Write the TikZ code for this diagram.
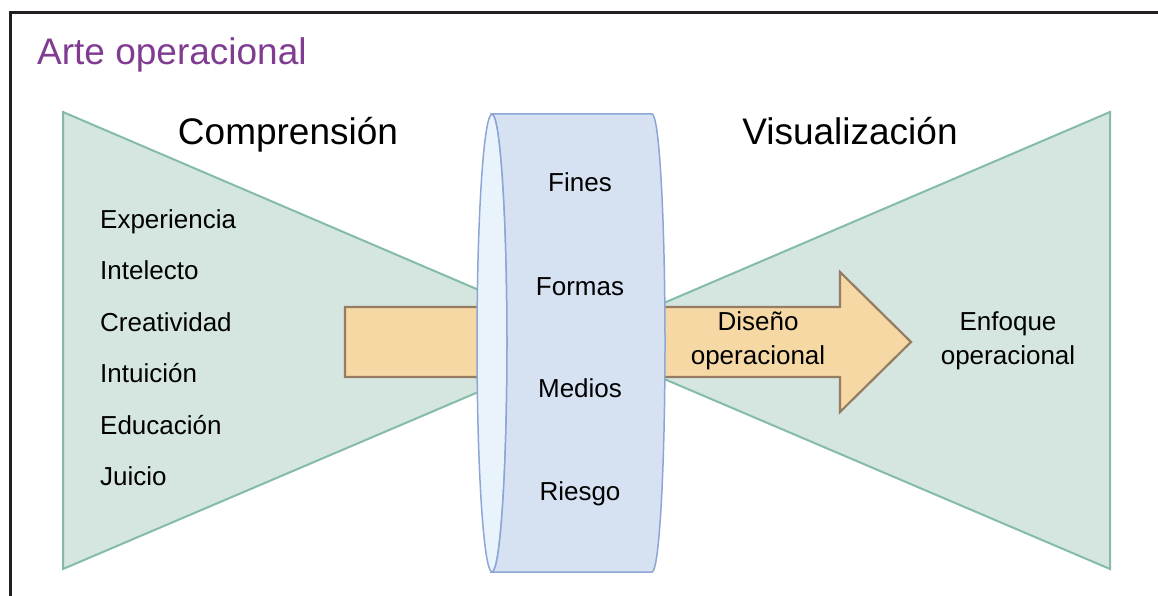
\documentclass[tikz,border=0pt]{standalone}
\usepackage{fontspec}
\setmainfont{Liberation Sans}
\definecolor{frameline}{RGB}{35,31,32}
\definecolor{titlepurple}{RGB}{128,60,145}
\definecolor{greenfill}{RGB}{212,230,223}
\definecolor{greenline}{RGB}{132,188,167}
\definecolor{cylfill}{RGB}{214,225,241}
\definecolor{cylback}{RGB}{233,243,252}
\definecolor{cylline}{RGB}{142,166,214}
\definecolor{arrowfill}{RGB}{245,216,163}
\definecolor{arrowline}{RGB}{150,124,98}
\begin{document}
\begin{tikzpicture}[x=1pt, y=-1pt,
    big/.style = {font=\fontsize{37}{44}\selectfont, anchor=base},
    item/.style = {font=\fontsize{26}{34}\selectfont, anchor=base west, inner sep=0pt},
    mid/.style = {font=\fontsize{26}{34}\selectfont, anchor=base, inner sep=0pt},
    two/.style = {font=\fontsize{26}{34}\selectfont, align=center, inner sep=0pt},
    funnel/.style = {fill=greenfill, draw=greenline, line width=2pt, line join=miter}]
    \useasboundingbox (0,0) rectangle (1158,596);
    \draw[frameline, line width=3pt] (10,596) -- (10,13) -- (1160,13);

    \node[anchor=base west, inner sep=0pt, text=titlepurple, font=\fontsize{37}{44}\selectfont] (title) at (37,65) {Arte operacional};

    \draw[funnel] (63,112) -- (598,341) -- (63,569) -- cycle;
    \draw[funnel] (1110,112) -- (575,341) -- (1110,569) -- cycle;

    \draw[fill=arrowfill, draw=arrowline, line width=2.2pt] (345,307) -- (840,307) -- (840,272) -- (911,342)
        -- (840,412) -- (840,377) -- (345,377) -- cycle;

    \draw[fill=cylback, draw=cylline, line width=1.5pt] (492,343) ellipse [x radius=15, y radius=229];
    \draw[fill=cylfill, draw=cylline, line width=1.5pt] (492,114) -- (652,114)
        arc[start angle=-90, end angle=90, x radius=13, y radius=229] -- (492,572)
        arc[start angle=90, end angle=-90, x radius=15, y radius=229] -- cycle;

    \node[big] (comp) at (288,145) {Comprensión};
    \node[big] (vis) at (850,145) {Visualización};

    \node[item] (exp) at (100,228) {Experiencia};
    \node[item] (int) at (100,279) {Intelecto};
    \node[item] (cre) at (100,331) {Creatividad};
    \node[item] (intu) at (100,382) {Intuición};
    \node[item] (edu) at (100,434) {Educación};
    \node[item] (jui) at (100,485) {Juicio};

    \node[mid] (fines) at (580,192) {Fines};
    \node[mid] (formas) at (580,295) {Formas};
    \node[mid] (medios) at (580,397) {Medios};
    \node[mid] (riesgo) at (580,500) {Riesgo};

    \node[two] (dis) at (758,341) {Diseño\\operacional};
    \node[two] (enf) at (1008,341) {Enfoque\\operacional};
\end{tikzpicture}
\end{document}
